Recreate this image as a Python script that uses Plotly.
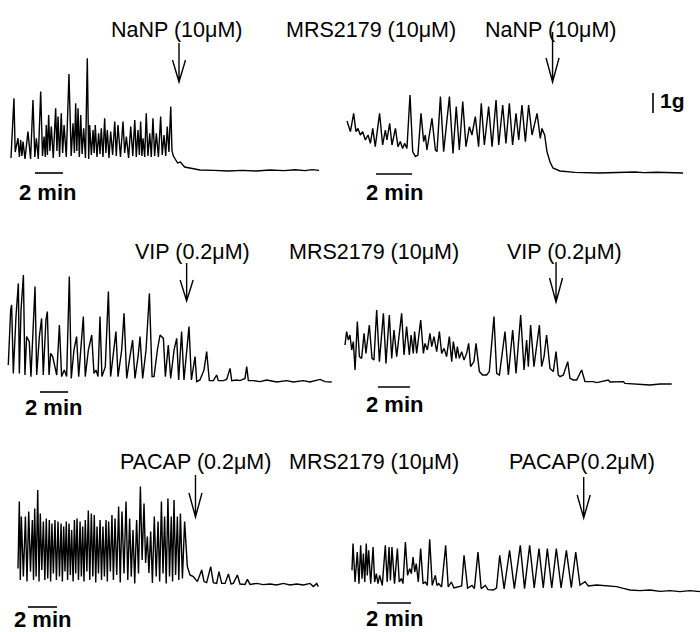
import plotly.graph_objects as go

W, H = 700, 632

# ---------------- DATA (time in min, tension in g above relaxed baseline) ----------------
# Panel 1: control, NaNP (10 µM)
p1_time = [0.0, 0.21, 0.3, 0.5, 0.6, 0.69, 0.78, 0.86, 1.0, 1.21, 1.4, 1.57, 1.7, 1.81, 1.95, 2.12,
           2.25, 2.36, 2.45, 2.52, 2.6, 2.69, 2.78, 2.88, 3.02, 3.19, 3.28, 3.36, 3.47, 3.59, 3.69,
           3.79, 3.95, 4.14, 4.3, 4.43, 4.53, 4.62, 4.7, 4.79, 4.88, 4.98, 5.08, 5.19, 5.32, 5.45,
           5.55, 5.62, 5.74, 5.86, 5.94, 6.02, 6.14, 6.26, 6.36, 6.45, 6.57, 6.69, 6.78, 6.88, 7.0,
           7.12, 7.26, 7.41, 7.52, 7.64, 7.82, 8.0, 8.12, 8.24, 8.4, 8.55, 8.7, 8.84, 8.95, 9.07,
           9.17, 9.26, 9.35, 9.43, 9.55, 9.66, 9.78, 9.91, 10.02, 10.14, 10.26, 10.38, 10.53, 10.69,
           10.8, 10.93, 11.05, 11.16, 11.28, 11.41, 11.5, 11.6, 11.9, 12.1, 12.4, 12.8, 13.5, 14.5,
           15.5, 16.5, 17.5, 18.5, 19.5, 20.3, 21.0, 21.5, 22.0]
p1_tension = [0.65, 3.64, 0.95, 1.64, 0.7, 1.55, 0.75, 1.47, 0.6, 1.97, 0.6, 3.55, 0.7, 1.64, 0.6, 3.97,
              0.75, 1.72, 0.7, 2.3, 0.8, 2.8, 1.0, 2.22, 0.65, 3.14, 1.0, 2.72, 0.7, 2.89, 0.9,
              2.3, 0.7, 4.85, 0.75, 2.39, 0.9, 3.39, 1.0, 3.14, 0.7, 2.8, 0.85, 2.14, 0.65, 5.64,
              0.6, 2.3, 0.8, 2.05, 0.9, 2.3, 0.7, 1.89, 0.85, 2.14, 0.7, 2.64, 0.9, 2.05, 0.65,
              1.97, 0.8, 2.47, 0.75, 2.3, 0.7, 2.47, 0.9, 1.72, 0.65, 2.22, 0.75, 2.55, 0.7, 2.05,
              0.8, 2.47, 0.75, 1.64, 0.7, 2.89, 0.75, 1.89, 0.7, 2.64, 0.75, 1.89, 0.7, 2.72,
              0.8, 1.8, 0.75, 2.22, 0.95, 3.22, 1.0, 0.75, 0.4, 0.45, 0.2, 0.15, 0.05, 0.03,
              0.0, 0.03, 0.0, 0.05, 0.02, 0.06, 0.02, 0.07, 0.03]

# Panel 2: MRS2179 (10 µM), NaNP (10 µM)
p2_time = [0.0, 0.19, 0.37, 0.5, 0.61, 0.74, 0.87, 1.02, 1.17, 1.3, 1.43, 1.57, 1.81, 1.98, 2.13, 2.22,
           2.37, 2.5, 2.69, 2.83, 2.96, 3.09, 3.2, 3.33, 3.5, 3.65, 3.8, 3.94, 4.11, 4.26, 4.35, 4.44,
           4.72, 4.91, 5.0, 5.19, 5.37, 5.69, 5.89, 6.07, 6.24, 6.43, 6.61, 6.8, 6.94, 7.13, 7.31,
           7.46, 7.63, 7.87, 8.06, 8.28, 8.43, 8.65, 8.83, 9.02, 9.2, 9.39, 9.54, 9.72, 9.91, 10.09,
           10.28, 10.56, 10.74, 10.83, 10.98, 11.11, 11.28, 11.44, 11.83, 12.67, 14.0, 15.3, 16.0,
           16.5, 17.2, 18.67]
p2_tension = [2.6, 2.07, 2.98, 2.07, 2.23, 1.9, 2.07, 1.65, 1.9, 1.48, 2.23, 1.32, 2.98, 1.4, 2.15, 1.65,
              2.48, 1.4, 2.23, 1.32, 1.57, 1.23, 1.48, 1.23, 3.9, 1.07, 0.82, 0.9, 2.98, 1.57, 1.9, 1.15,
              2.73, 1.15, 1.07, 3.82, 1.07, 3.82, 0.98, 3.32, 1.15, 3.57, 1.32, 2.32, 1.9, 2.82, 1.32,
              3.48, 1.4, 3.32, 1.32, 3.65, 1.4, 3.4, 1.48, 3.48, 1.4, 2.98, 1.65, 3.4, 1.57, 3.4,
              1.9, 2.98, 1.73, 2.23, 1.9, 1.07, 0.55, 0.25, 0.1, 0.03, 0.0, 0.02, 0.05,
              0.02, 0.04, 0.0]

# Panel 3: control, VIP (0.2 µM)
p3_time = [0.02, 0.19, 0.26, 0.38, 0.57, 0.74, 0.81, 0.93, 1.1, 1.21, 1.33, 1.52, 1.64, 1.81, 1.93, 2.05,
           2.24, 2.4, 2.52, 2.71, 2.81, 2.93, 3.05, 3.19, 3.36, 3.48, 3.67, 3.83, 4.02, 4.19, 4.38,
           4.52, 4.71, 4.9, 5.05, 5.24, 5.38, 5.52, 5.74, 5.98, 6.14, 6.29, 6.43, 6.57, 6.71, 6.95,
           7.17, 7.33, 7.52, 7.71, 7.86, 8.12, 8.29, 8.48, 8.71, 8.9, 9.07, 9.29, 9.43, 9.62, 9.86,
           10.1, 10.29, 10.43, 10.67, 10.86, 11.1, 11.24, 11.45, 11.62, 11.86, 12.05, 12.19, 12.4,
           12.57, 12.76, 12.93, 13.1, 13.24, 13.36, 13.48, 13.71, 14.0, 14.19, 14.38, 14.67, 14.9,
           15.02, 15.38, 15.62, 15.86, 15.98, 16.33, 16.57, 16.93, 17.05, 17.17, 17.52, 18.0, 18.48,
           19.19, 19.9, 20.38, 21.1, 21.57, 22.29, 22.64, 23.12]
p3_tension = [0.85, 3.6, 3.85, 0.43, 3.27, 4.93, 0.43, 3.6, 5.35, 0.35, 2.27, 2.02, 0.27, 3.27, 4.77, 0.35,
              2.27, 3.18, 0.35, 3.1, 3.52, 0.35, 1.43, 1.27, 0.77, 0.35, 2.85, 0.27, 0.6, 0.27, 5.27,
              0.18, 1.6, 2.27, 0.27, 2.27, 3.27, 0.27, 1.6, 2.35, 0.43, 0.6, 0.27, 3.27, 0.27, 0.77,
              4.52, 0.27, 1.27, 2.52, 0.27, 1.6, 3.43, 0.18, 1.27, 2.1, 0.18, 1.27, 2.27, 0.18, 1.6,
              4.43, 0.27, 0.27, 1.6, 2.35, 2.18, 0.27, 1.85, 0.18, 1.6, 2.18, 0.1, 2.52,
              0.1, 1.43, 2.77, 0.1, 0.77, 1.27, 0.02, 0.1, 0.6, 1.52, 0.07, 0.07, 0.35,
              0.07, 0.07, 0.13, 0.68, 0.07, 0.1, 0.07, 0.18, 0.77, 0.07, 0.07, 0.02, 0.1,
              0.0, 0.07, 0.0, 0.07, 0.0, 0.13, 0.02, 0.0]

# Panel 4: MRS2179 (10 µM), VIP (0.2 µM)
p4_time = [0.0, 0.1, 0.21, 0.31, 0.42, 0.52, 0.63, 0.77, 0.9, 1.04, 1.19, 1.31, 1.52, 1.69, 1.81, 1.98,
           2.15, 2.4, 2.56, 2.77, 2.92, 3.06, 3.23, 3.54, 3.69, 3.85, 4.02, 4.13, 4.27, 4.35, 4.48,
           4.73, 4.9, 5.0, 5.15, 5.31, 5.42, 5.56, 5.73, 5.9, 6.04, 6.19, 6.35, 6.52, 6.67, 6.77,
           6.94, 7.02, 7.15, 7.29, 7.44, 7.6, 7.73, 7.85, 8.06, 8.19, 8.4, 8.6, 8.85, 9.02, 9.31,
           9.48, 9.65, 10.0, 10.21, 10.48, 10.69, 10.98, 11.19, 11.35, 11.46, 11.6, 11.81, 12.15,
           12.29, 12.44, 12.6, 12.81, 13.02, 13.19, 13.33, 13.44, 13.65, 13.92, 14.06, 14.27, 14.48,
           14.79, 15.0, 15.52, 15.73, 16.46, 16.56, 17.4, 17.5, 18.23, 19.06, 19.69, 20.42]
p4_tension = [2.0, 2.67, 2.25, 2.5, 1.75, 2.17, 0.75, 3.17, 1.42, 1.33, 2.58, 1.58, 3.0, 1.33, 1.25, 3.75,
              1.17, 3.58, 1.08, 3.5, 1.33, 2.75, 1.42, 3.58, 1.5, 2.92, 1.5, 2.5, 1.58, 2.67, 1.58,
              3.25, 1.58, 2.08, 1.75, 2.58, 1.92, 2.42, 1.67, 2.67, 1.58, 1.83, 1.42, 2.42, 1.17, 2.17,
              1.33, 1.92, 1.33, 1.67, 1.25, 1.58, 2.08, 0.92, 1.17, 2.08, 0.67, 0.5, 0.5, 0.67, 3.42,
              0.58, 0.5, 2.67, 0.5, 2.75, 0.58, 3.5, 0.75, 2.25, 0.92, 3.0, 0.92, 3.0,
              0.92, 1.42, 2.5, 0.83, 0.67, 1.67, 0.5, 0.42, 0.5, 1.17, 0.33, 0.25, 0.25,
              0.75, 0.17, 0.17, 0.12, 0.25, 0.15, 0.17, 0.08, 0.05, 0.0, 0.05, 0.05]

# Panel 5: control, PACAP (0.2 µM)
p5_time = [0.0, 0.09, 0.16, 0.23, 0.37, 0.51, 0.62, 0.74, 0.86, 0.99, 1.07, 1.15, 1.25, 1.36, 1.45, 1.54,
           1.64, 1.75, 1.85, 1.95, 2.05, 2.16, 2.25, 2.34, 2.44, 2.55, 2.65, 2.76, 2.86, 2.97, 3.06,
           3.15, 3.24, 3.33, 3.42, 3.52, 3.61, 3.7, 3.8, 3.89, 3.98, 4.07, 4.17, 4.28, 4.37, 4.46,
           4.55, 4.64, 4.75, 4.85, 4.95, 5.06, 5.16, 5.26, 5.36, 5.45, 5.55, 5.66, 5.76, 5.86, 5.96,
           6.07, 6.16, 6.25, 6.37, 6.48, 6.58, 6.69, 6.81, 6.94, 7.05, 7.17, 7.31, 7.45, 7.57, 7.7,
           7.81, 7.93, 8.05, 8.18, 8.31, 8.44, 8.56, 8.69, 8.8, 8.92, 9.03, 9.15, 9.27, 9.4, 9.53,
           9.66, 9.77, 9.89, 10.0, 10.11, 10.22, 10.34, 10.45, 10.57, 10.66, 10.76, 10.87, 10.99,
           11.09, 11.2, 11.34, 11.49, 11.68, 11.86, 12.09, 12.37, 12.67, 12.83, 13.01, 13.29, 13.47,
           13.7, 13.86, 14.05, 14.28, 14.51, 14.69, 14.85, 15.13, 15.31, 15.66, 15.82, 16.0, 16.46,
           16.92, 17.38, 17.84, 18.3, 18.76, 19.22, 19.68, 20.14, 20.37, 20.6, 20.71]
p5_tension = [0.83, 4.17, 0.25, 3.42, 0.42, 3.42, 0.17, 3.67, 0.67, 3.25, 0.25, 3.83, 0.42, 4.75, 0.17, 3.58,
              0.75, 3.17, 0.25, 3.33, 0.33, 3.25, 0.17, 3.08, 0.58, 3.25, 0.25, 3.17, 0.42, 3.08, 0.17,
              2.92, 0.67, 3.17, 0.25, 3.08, 0.5, 2.75, 0.17, 3.25, 0.58, 3.33, 0.25, 3.17, 0.42, 2.92,
              0.17, 3.25, 0.67, 3.72, 0.25, 3.58, 0.42, 3.5, 0.12, 2.92, 0.58, 3.25, 0.25, 2.92, 0.42,
              3.25, 0.17, 3.17, 0.67, 3.5, 0.25, 3.33, 0.5, 3.92, 0.12, 3.67, 0.58, 4.17, 0.25, 3.33,
              0.42, 2.75, 0.08, 3.25, 0.58, 4.92, 1.25, 4.08, 1.1, 2.42, 0.6, 2.67, 0.1, 3.42, 0.42,
              3.17, 0.17, 4.17, 0.58, 3.42, 0.08, 4.33, 0.42, 3.42, 0.17, 4.25, 0.5, 3.42,
              0.25, 3.58, 0.33, 3.17, 0.92, 0.5, 0.42, 0.17, 0.75, 0.17, 0.12, 0.92, 0.12,
              0.08, 0.67, 0.08, 0.08, 0.55, 0.05, 0.08, 0.5, 0.05, 0.03, 0.28, 0.03, 0.08,
              0.02, 0.05, 0.0, 0.08, 0.0, 0.05, 0.0, 0.08, -0.08, 0.08, -0.08]

# Panel 6: MRS2179 (10 µM), PACAP (0.2 µM)
p6_time = [0.0, 0.06, 0.18, 0.31, 0.41, 0.51, 0.59, 0.67, 0.75, 0.84, 0.9, 0.98, 1.1, 1.24, 1.33, 1.43,
           1.53, 1.63, 1.78, 1.96, 2.07, 2.18, 2.26, 2.35, 2.5, 2.67, 2.78, 2.9, 3.0, 3.14, 3.27,
           3.39, 3.49, 3.59, 3.69, 3.78, 3.9, 4.04, 4.18, 4.31, 4.43, 4.57, 4.72, 4.9, 5.0, 5.1,
           5.27, 5.51, 5.66, 5.84, 6.0, 6.25, 6.45, 6.59, 6.8, 7.06, 7.2, 7.41, 7.6, 7.84, 8.0,
           8.3, 8.5, 8.69, 8.95, 9.27, 9.55, 9.9, 10.15, 10.45, 10.72, 11.0, 11.25, 11.49, 11.75,
           12.02, 12.3, 12.61, 12.9, 13.16, 13.41, 13.71, 13.9, 14.39, 14.98, 15.57, 15.96, 16.35,
           16.94, 17.53, 18.12, 18.71, 19.29, 19.88, 20.47]
p6_tension = [1.08, 2.42, 0.5, 2.0, 0.42, 2.33, 0.67, 1.92, 0.5, 2.42, 0.83, 2.08, 0.42, 2.25, 0.5, 0.92,
              0.42, 0.83, 0.33, 2.33, 0.5, 2.25, 0.58, 2.25, 0.42, 2.17, 0.5, 0.67, 0.42, 2.5, 0.83,
              1.17, 0.92, 1.75, 1.0, 1.42, 0.5, 2.17, 0.42, 0.5, 0.33, 2.63, 0.33, 0.83, 0.33, 0.42,
              0.25, 2.33, 0.25, 0.5, 0.2, 0.25, 0.3, 1.83, 0.2, 0.33, 0.17, 2.0, 0.17, 0.33, 0.12,
              0.1, 0.2, 1.83, 0.15, 2.08, 0.17, 2.33, 0.17, 2.33, 0.2, 2.17, 0.2, 2.17, 0.2,
              2.17, 0.2, 2.08, 0.22, 2.0, 0.35, 0.52, 0.3, 0.35, 0.32, 0.27, 0.18, 0.1,
              0.07, 0.1, 0.03, 0.07, 0.02, 0.07, 0.02]

# drug-addition times (min) and labels
drug_time = [12.0, 11.42, 12.76, 13.19, 12.24, 13.63]
drug_label = ["NaNP (10μM)", "NaNP (10μM)", "VIP (0.2μM)", "VIP (0.2μM)", "PACAP (0.2μM)", "PACAP(0.2μM)"]
mrs_label = "MRS2179 (10μM)"
scale_min = 2      # time scale bar (min)
scale_g = 1        # force scale bar (g)

# ---------------- LAYOUT (pixel placement of each panel) ----------------
PX_PER_G = 20
panels = [
    dict(t=p1_time, g=p1_tension, x0=11, ppm=14.0, yb=171, bar_t=1.71, bar_g=-0.10,
         arr_top=6.4, arr_mid=5.55, arr_tip=4.45, lab=(177, 30), lab2=(47, 192)),
    dict(t=p2_time, g=p2_tension, x0=347, ppm=18.0, yb=173, bar_t=1.61, bar_g=-0.05,
         arr_top=7.05, arr_mid=5.75, arr_tip=4.55, lab=(550, 30), lab2=(394, 192)),
    dict(t=p3_time, g=p3_tension, x0=8, ppm=14.0, yb=382, bar_t=2.29, bar_g=-0.5,
         arr_top=5.95, arr_mid=5.1, arr_tip=4.05, lab=(193, 252), lab2=(53, 407)),
    dict(t=p4_time, g=p4_tension, x0=345, ppm=16.0, yb=385, bar_t=2.06, bar_g=-0.1,
         arr_top=6.15, arr_mid=5.35, arr_tip=4.15, lab=(564, 252), lab2=(394, 404)),
    dict(t=p5_time, g=p5_tension, x0=18, ppm=14.5, yb=585, bar_t=0.69, bar_g=-1.1,
         arr_top=5.5, arr_mid=4.6, arr_tip=3.4, lab=(195, 462), lab2=(42, 619)),
    dict(t=p6_time, g=p6_tension, x0=352, ppm=17.0, yb=592, bar_t=1.47, bar_g=-0.55,
         arr_top=5.75, arr_mid=4.85, arr_tip=3.7, lab=(582, 462), lab2=(394, 618)),
]
mrs_pos = [(371, 30), (374, 252), (374, 462)]

FONT = "Arial, Liberation Sans, sans-serif"
fig = go.Figure()
shapes, annotations = [], []
layout_axes = {}

for i, p in enumerate(panels):
    n = i + 1
    xa = "x" if n == 1 else f"x{n}"
    ya = "y" if n == 1 else f"y{n}"
    xkey = "xaxis" if n == 1 else f"xaxis{n}"
    ykey = "yaxis" if n == 1 else f"yaxis{n}"
    xr = [(0 - p["x0"]) / p["ppm"], (W - p["x0"]) / p["ppm"]]
    yr = [(p["yb"] - H) / PX_PER_G, p["yb"] / PX_PER_G]
    xd = dict(range=xr, domain=[0, 1], visible=False, showgrid=False, zeroline=False, fixedrange=True)
    yd = dict(range=yr, domain=[0, 1], visible=False, showgrid=False, zeroline=False, fixedrange=True)
    if n > 1:
        xd["overlaying"] = "x"
        yd["overlaying"] = "y"
        xd["anchor"] = ya
        yd["anchor"] = xa
    layout_axes[xkey] = xd
    layout_axes[ykey] = yd

    fig.add_trace(go.Scatter(x=p["t"], y=p["g"], mode="lines", xaxis=xa, yaxis=ya,
                             line=dict(color="black", width=1.4), hoverinfo="skip", showlegend=False))

    # 2 min scale bar
    shapes.append(dict(type="line", xref=xa, yref=ya, x0=p["bar_t"], x1=p["bar_t"] + scale_min,
                       y0=p["bar_g"], y1=p["bar_g"], line=dict(color="black", width=1.6)))
    # drug arrow
    dt = drug_time[i]
    hw = 6.5 / p["ppm"]
    path = (f"M {dt},{p['arr_top']} L {dt},{p['arr_tip']} "
            f"M {dt - hw},{p['arr_mid']} L {dt},{p['arr_tip']} L {dt + hw},{p['arr_mid']}")
    shapes.append(dict(type="path", xref=xa, yref=ya, path=path, line=dict(color="black", width=1.4)))

    lx, ly = p["lab"]
    annotations.append(dict(x=lx / W, y=1 - ly / H, xref="paper", yref="paper", text=drug_label[i],
                            showarrow=False, xanchor="center", yanchor="middle",
                            font=dict(family=FONT, size=21.5, color="black")))
    sx, sy = p["lab2"]
    annotations.append(dict(x=sx / W, y=1 - sy / H, xref="paper", yref="paper", text=f"{scale_min} min",
                            showarrow=False, xanchor="center", yanchor="middle",
                            font=dict(family=FONT, size=22, color="black", weight="bold")))

for (mx, my) in mrs_pos:
    annotations.append(dict(x=mx / W, y=1 - my / H, xref="paper", yref="paper", text=mrs_label,
                            showarrow=False, xanchor="center", yanchor="middle",
                            font=dict(family=FONT, size=21.5, color="black")))

# 1 g force scale bar (panel 2 coordinates)
shapes.append(dict(type="line", xref="x2", yref="y2", x0=17.0, x1=17.0, y0=3.0, y1=3.0 + scale_g,
                   line=dict(color="black", width=1.6)))
annotations.append(dict(x=658 / W, y=1 - 101 / H, xref="paper", yref="paper", text=f"{scale_g}g",
                        showarrow=False, xanchor="left", yanchor="middle",
                        font=dict(family=FONT, size=21, color="black", weight="bold")))

fig.update_layout(width=W, height=H, autosize=False, margin=dict(l=0, r=0, t=0, b=0),
                  paper_bgcolor="white", plot_bgcolor="rgba(0,0,0,0)",
                  shapes=shapes, annotations=annotations, showlegend=False, **layout_axes)

fig.write_html("out.html")
